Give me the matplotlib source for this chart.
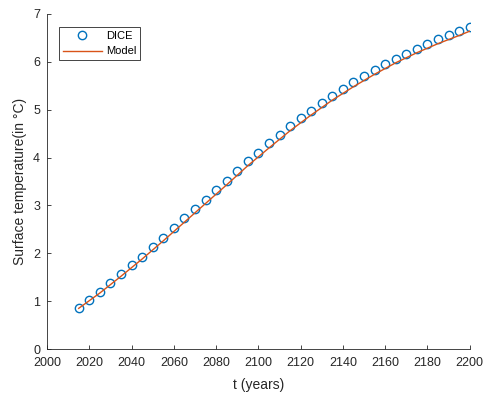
import matplotlib
matplotlib.use('Agg')
import matplotlib.pyplot as plt
import numpy as np

# DICE reference points, every 5 years
dice_years = list(range(2015, 2201, 5))
dice_temp = [0.85, 1.02, 1.20, 1.37, 1.56, 1.75, 1.93, 2.13, 2.33, 2.53,
             2.73, 2.93, 3.12, 3.33, 3.52, 3.72, 3.92, 4.10, 4.30, 4.48,
             4.66, 4.82, 4.98, 5.13, 5.28, 5.43, 5.57, 5.70, 5.83, 5.95,
             6.06, 6.17, 6.27, 6.38, 6.47, 6.56, 6.64, 6.73]

# model curve
model_years = [2015, 2025, 2035, 2045, 2055, 2065, 2075, 2085, 2095, 2105,
               2115, 2125, 2135, 2145, 2155, 2165, 2175, 2185, 2195, 2200]
model_temp = [0.85, 1.17, 1.52, 1.88, 2.26, 2.65, 3.04, 3.43, 3.83, 4.20,
              4.56, 4.89, 5.20, 5.48, 5.74, 5.98, 6.19, 6.38, 6.55, 6.64]

plt.rcParams['font.family'] = ['Liberation Sans', 'DejaVu Sans']

fig = plt.figure(figsize=(4.91, 3.98), dpi=100)
ax = fig.add_axes([0.0957, 0.123, 0.861, 0.842])

ax.plot(dice_years, dice_temp, 'o', mfc='none', mec='#0072BD', ms=6, mew=1, label='DICE')
ax.plot(model_years, model_temp, '-', color='#D95319', lw=1, label='Model')

ax.set_xlim(2000, 2200)
ax.set_ylim(0, 7)
ax.set_xticks(range(2000, 2201, 20))
ax.set_yticks(range(0, 8))
ax.tick_params(direction='in', labelsize=9, colors='#262626', length=3, width=0.6)
ax.tick_params(axis='x', pad=6)
ax.tick_params(axis='y', pad=5)
for s in ['top', 'right']:
    ax.spines[s].set_visible(False)
for s in ['left', 'bottom']:
    ax.spines[s].set_color('#262626')
    ax.spines[s].set_linewidth(0.6)

ax.set_xlabel('t (years)', fontsize=10, color='#262626', labelpad=6)
ax.set_ylabel('Surface temperature(in °C)', fontsize=10, color='#262626')

leg = ax.legend(loc='upper left', bbox_to_anchor=(0.028, 0.961), borderaxespad=0,
                fontsize=8, handlelength=3.5, fancybox=False, framealpha=1,
                edgecolor='#262626', borderpad=0.35, labelspacing=0.5, handletextpad=0.4)
leg.get_frame().set_linewidth(0.6)

plt.savefig('out.png', dpi=100)
